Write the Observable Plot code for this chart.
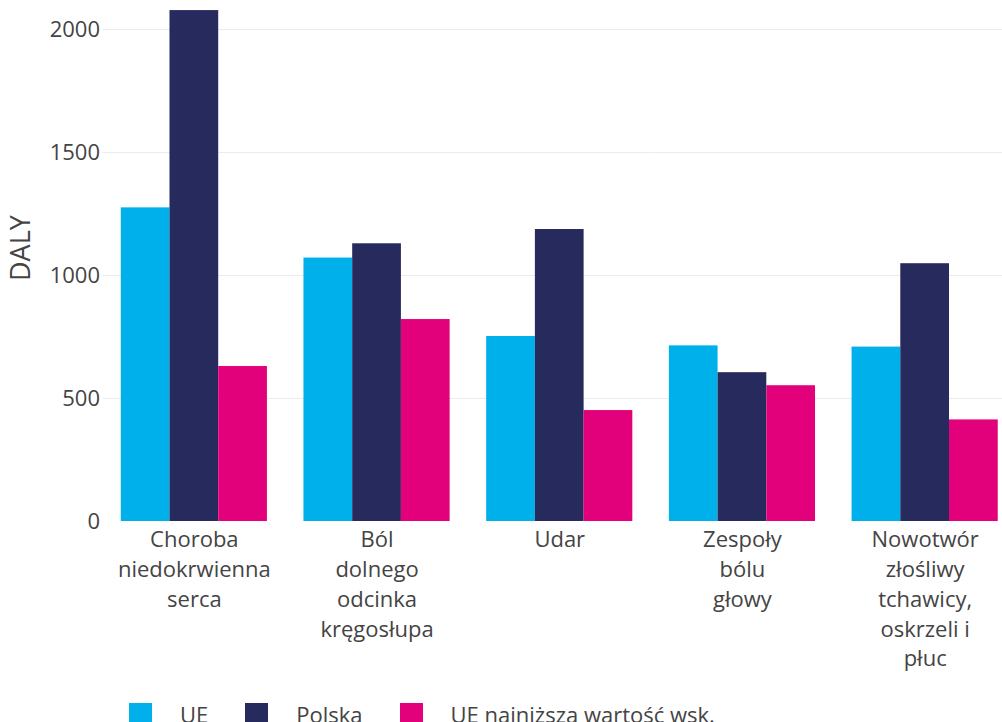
<!DOCTYPE html>
<html><head><meta charset="utf-8">
<script src="https://cdn.jsdelivr.net/npm/d3@7"></script>
<script src="https://cdn.jsdelivr.net/npm/@observablehq/plot@0.6"></script>
<style>
html,body{margin:0;padding:0;background:#fff;overflow:hidden;width:1002px;height:722px}
#chart svg{overflow:visible}
.legend{display:flex;align-items:center;padding-left:129px;margin-top:19px;font-family:'Open Sans',sans-serif;font-size:22px;color:#444;white-space:nowrap}
.legend .item{display:flex;align-items:center;margin-right:37px}
.legend .sw{width:23px;height:23px;margin-right:28px;flex:none}
</style></head><body>
<div id="chart"></div>
<div class="legend" id="legend"></div>
<script>
const categories = ["Choroba niedokrwienna serca", "Ból dolnego odcinka kręgosłupa", "Udar", "Zespoły bólu głowy", "Nowotwór złośliwy tchawicy, oskrzeli i płuc"];
const tickLabels = ["Choroba\nniedokrwienna\nserca", "Ból\ndolnego\nodcinka\nkręgosłupa", "Udar", "Zespoły\nbólu\ngłowy", "Nowotwór\nzłośliwy\ntchawicy,\noskrzeli i\npłuc"];
const seriesNames = ["UE", "Polska", "UE najniższa wartość wsk."];
const seriesColors = ["#00b0ea", "#272a5c", "#e3007b"];
const ue = [1275, 1071, 752, 714, 709];
const polska = [2077, 1129, 1187, 605, 1048];
const ueMin = [630, 821, 451, 552, 413];
const yTicks = [0, 500, 1000, 1500, 2000];
const yLabel = "DALY";

const seriesValues = [ue, polska, ueMin];
const rows = [];
categories.forEach((c, i) => seriesNames.forEach((s, j) => rows.push({category: c, series: s, value: seriesValues[j][i]})));

const plot = Plot.plot({
  width: 1002, height: 680,
  marginLeft: 102.5, marginRight: -14, marginTop: 0, marginBottom: 159,
  style: {fontFamily: "'Open Sans', sans-serif", fontSize: "22px", color: "#444", background: "transparent", overflow: "visible"},
  fx: {domain: categories, padding: 0, round: false, label: null},
  x: {domain: seriesNames, paddingInner: 0, paddingOuter: 0.375, round: false, axis: null},
  y: {domain: [0, 2118], label: null},
  color: {domain: seriesNames, range: seriesColors},
  marks: [
    Plot.ruleY(yTicks.filter(d => d > 0), {stroke: "#ebebeb", strokeWidth: 1}),
    Plot.barY(rows, {fx: "category", x: "series", y: "value", fill: "series"}),
    Plot.axisY({ticks: yTicks, tickSize: 0, tickPadding: 3, tickFormat: d => String(d), label: null}),
    Plot.text([yLabel], {frameAnchor: "left", rotate: -90, dx: -82, dy: 20, fontSize: 27, fill: "#444", facetAnchor: "left"}),
    Plot.axisFx({anchor: "bottom", tickSize: 0, tickPadding: 4, label: null, lineHeight: 1.36, tickFormat: d => tickLabels[categories.indexOf(d)]})
  ]
});
document.getElementById("chart").appendChild(plot);

const leg = document.getElementById("legend");
seriesNames.forEach((s, i) => {
  const it = document.createElement("div"); it.className = "item";
  const sw = document.createElement("div"); sw.className = "sw"; sw.style.background = seriesColors[i];
  const tx = document.createElement("span"); tx.textContent = s;
  it.appendChild(sw); it.appendChild(tx); leg.appendChild(it);
});
</script>
</body></html>
